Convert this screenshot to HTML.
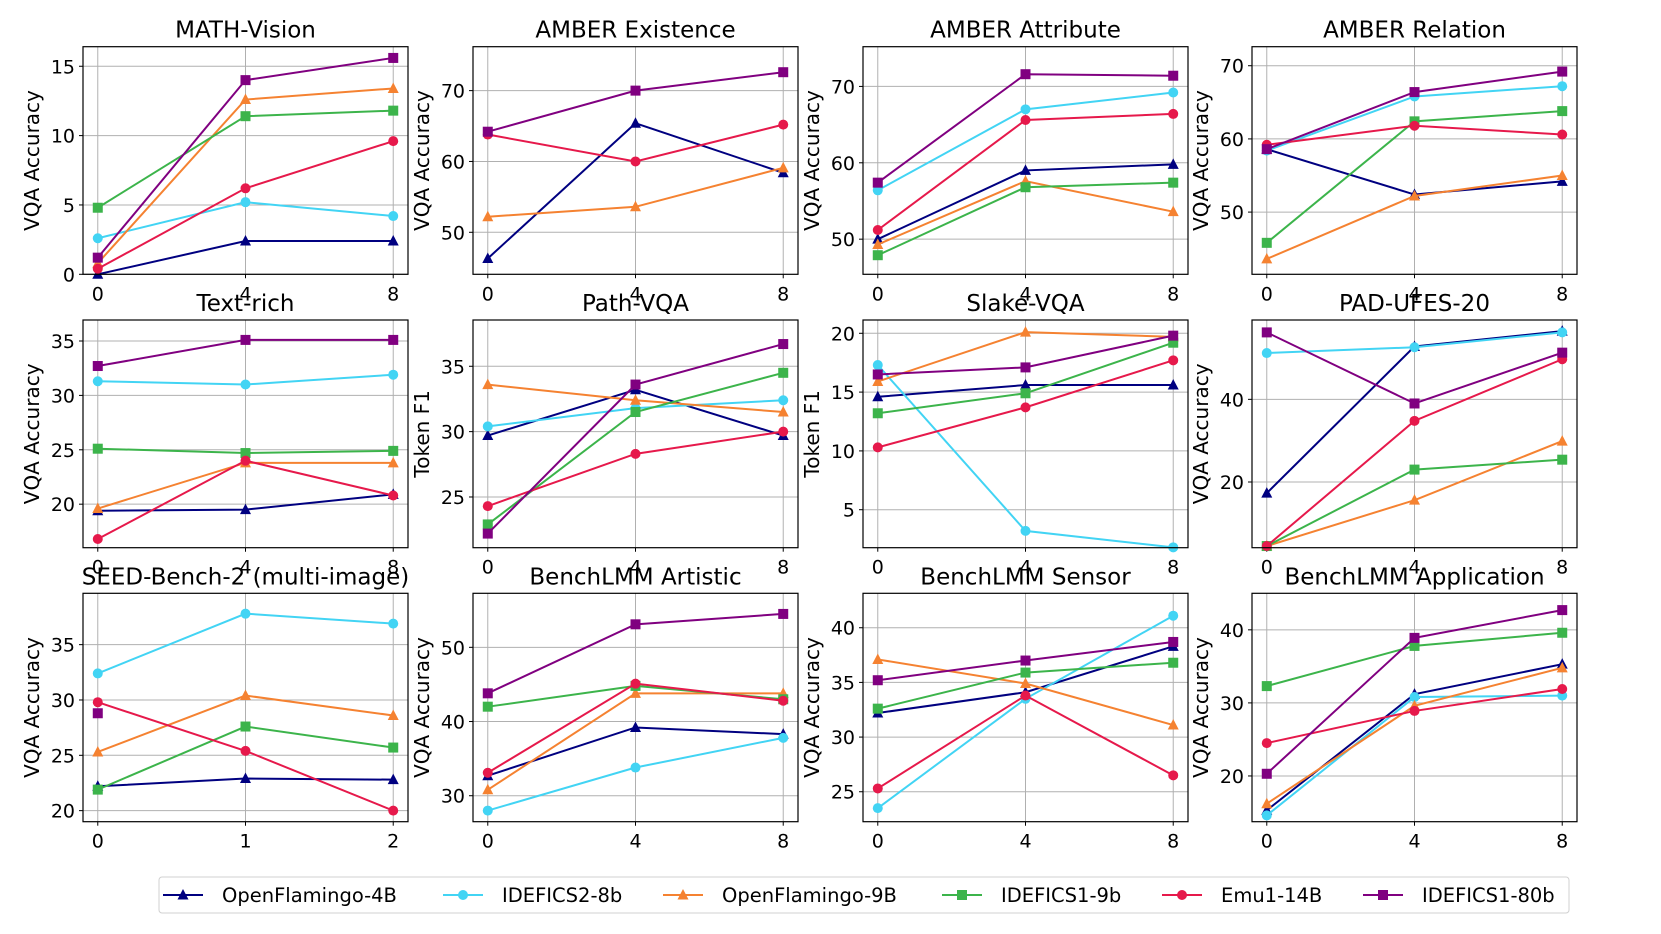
<!DOCTYPE html>
<html><head><meta charset="utf-8"><style>
body{margin:0;background:#fff;font-family:"DejaVu Sans","Liberation Sans",sans-serif;}
svg{display:block}
</style></head><body>
<svg id="chart" width="1661" height="934" viewBox="0 0 1661 934" xmlns="http://www.w3.org/2000/svg"></svg>
<script>
const series = ["OpenFlamingo-4B","IDEFICS2-8b","OpenFlamingo-9B","IDEFICS1-9b","Emu1-14B","IDEFICS1-80b"];
const colors = ["#000080","#42d4f4","#f58231","#3cb44b","#e6194b","#800080"];
const markers = ["tri","circ","tri","sq","circ","sq"];
const titles = ["MATH-Vision","AMBER Existence","AMBER Attribute","AMBER Relation","Text-rich","Path-VQA","Slake-VQA","PAD-UFES-20","SEED-Bench-2 (multi-image)","BenchLMM Artistic","BenchLMM Sensor","BenchLMM Application"];
const ylabels = ["VQA Accuracy","VQA Accuracy","VQA Accuracy","VQA Accuracy","VQA Accuracy","Token F1","Token F1","VQA Accuracy","VQA Accuracy","VQA Accuracy","VQA Accuracy","VQA Accuracy"];
const xcats = [[0,4,8],[0,4,8],[0,4,8],[0,4,8],[0,4,8],[0,4,8],[0,4,8],[0,4,8],[0,1,2],[0,4,8],[0,4,8],[0,4,8]];
const yticks = [[0,5,10,15],[50,60,70],[50,60,70],[50,60,70],[20,25,30,35],[25,30,35],[5,10,15,20],[20,40],[20,25,30,35],[30,40,50],[25,30,35,40],[20,30,40]];
const ylims = [[0,16.41],[44.07,76.2],[45.4,75.2],[41.5,72.6],[16.0,36.93],[21.12,38.54],[1.77,21.13],[4.1,59.2],[19.0,39.64],[26.5,57.28],[22.26,43.15],[13.74,45.0]];
const vOF4 = [[0,2.4,2.4],[46.3,65.4,58.4],[50,59,59.8],[58.6,52.4,54.2],[19.4,19.5,20.9],[29.7,33.2,29.7],[14.6,15.6,15.6],[17.3,52.8,56.5],[22.2,22.9,22.8],[32.7,39.2,38.3],[32.2,34.1,38.3],[15.3,31.2,35.3]];
const vID2 = [[2.6,5.2,4.2],null,[56.4,67,69.2],[58.4,65.8,67.2],[31.3,31,31.9],[30.4,31.8,32.4],[17.3,3.2,1.8],[51.2,52.6,56.2],[32.4,37.8,36.9],[28,33.8,37.8],[23.5,33.5,41.1],[14.6,30.8,31]];
const vOF9 = [[0.8,12.6,13.4],[52.2,53.6,59.1],[49.3,57.6,53.6],[43.6,52.2,55],[19.6,23.8,23.8],[33.6,32.4,31.5],[15.9,20.1,19.7],[4.5,15.6,29.9],[25.3,30.4,28.6],[30.8,43.8,43.8],[37.1,34.9,31.1],[16.2,29.6,34.8]];
const vID9 = [[4.8,11.4,11.8],null,[47.9,56.8,57.4],[45.8,62.4,63.8],[25.1,24.7,24.9],[22.9,31.5,34.5],[13.2,14.9,19.2],[4.5,23,25.4],[21.9,27.6,25.7],[42,44.8,43],[32.6,35.9,36.8],[32.3,37.8,39.6]];
const vEmu = [[0.4,6.2,9.6],[63.8,60,65.2],[51.2,65.6,66.4],[59.2,61.8,60.6],[16.8,24,20.8],[24.3,28.3,30],[10.3,13.7,17.7],[4.5,34.8,49.7],[29.8,25.4,20],[33.1,45.1,42.8],[25.3,33.8,26.5],[24.5,28.9,31.9]];
const vID80 = [[1.2,14,15.6],[64.2,70,72.6],[57.4,71.6,71.4],[58.6,66.4,69.2],[32.7,35.1,35.1],[22.2,33.6,36.7],[16.5,17.1,19.8],[56.2,39,51.3],[28.8,null,null],[43.8,53.1,54.5],[35.2,37,38.7],[20.3,38.9,42.7]];
const allVals = [vOF4,vID2,vOF9,vID9,vEmu,vID80];

const NS="http://www.w3.org/2000/svg";
const svg=document.getElementById('chart');
function mk(tag,attrs,parent){const e=document.createElementNS(NS,tag);for(const k in attrs)e.setAttribute(k,attrs[k]);(parent||svg).appendChild(e);return e;}
const colX=[83,473,863,1252], W=325;
const rowY=[[46.7,274.3],[320,547.7],[593.3,821.7]];

function marker(g,type,x,y,c){
  let m;
  if(type==="tri"){m=mk('polygon',{points:`${x},${y-6} ${x-5.5},${y+4.5} ${x+5.5},${y+4.5}`,fill:c},g);}
  else if(type==="circ"){m=mk('circle',{cx:x,cy:y,r:5,fill:c},g);}
  else {m=mk('rect',{x:x-5,y:y-5,width:10,height:10,fill:c},g);}
  return m;
}

for(let p=0;p<12;p++){
  const L=colX[p%4], R=L+W, T=rowY[Math.floor(p/4)][0], B=rowY[Math.floor(p/4)][1];
  const cats=xcats[p];
  const xmin=cats[0]-(cats[2]-cats[0])*0.05, xmax=cats[2]+(cats[2]-cats[0])*0.05;
  const [y0,y1]=ylims[p];
  const sx=v=>L+(v-xmin)/(xmax-xmin)*W;
  const sy=v=>B-(v-y0)/(y1-y0)*(B-T);
  const g=mk('g',{});
  
  
  const gr=mk('g',{stroke:'#b0b0b0','stroke-width':1},g);
  
  
  cats.forEach(c=>{mk('line',{x1:sx(c),x2:sx(c),y1:T,y2:B},gr);
    const t=mk('text',{x:sx(c),y:B+26,'text-anchor':'middle','font-size':19,fill:'#000'},g);t.textContent=c;
    
    
    mk('line',{x1:sx(c),x2:sx(c),y1:B,y2:B+4,stroke:'#000'},g);});
  yticks[p].forEach(v=>{mk('line',{x1:L,x2:R,y1:sy(v),y2:sy(v)},gr);
    const t=mk('text',{x:L-8,y:sy(v)+7,'text-anchor':'end','font-size':19,fill:'#000'},g);t.textContent=v;
    
    
    mk('line',{x1:L-4,x2:L,y1:sy(v),y2:sy(v),stroke:'#000'},g);});
  const cp='clip'+p;
  const cl=mk('clipPath',{id:cp},g);mk('rect',{x:L-8,y:T-8,width:W+16,height:B-T+16},cl);
  for(let s=0;s<6;s++){
    const vals=allVals[s][p]; if(!vals) continue;
    const sg=mk('g',{'clip-path':`url(#${cp})`},g);
    
    
    const pts=[];vals.forEach((v,i)=>{if(v!==null)pts.push(sx(cats[i])+','+sy(v));});
    if(pts.length>1){const pl=mk('polyline',{points:pts.join(' '),fill:'none',stroke:colors[s],'stroke-width':2},sg);
      
      }
    vals.forEach((v,i)=>{if(v===null)return;const m=marker(sg,markers[s],sx(cats[i]),sy(v),colors[s]);
      
      });
  }
  const fr=mk('rect',{x:L,y:T,width:W,height:B-T,fill:'none',stroke:'#000','stroke-width':1.2},g);
  
  
  const tt=mk('text',{x:(L+R)/2,y:T-9,'text-anchor':'middle','font-size':23,fill:'#000'},g);tt.textContent=titles[p];
  
  
  const yl=mk('text',{x:0,y:0,'text-anchor':'middle','font-size':20,fill:'#000',transform:`translate(${L-44},${(T+B)/2}) rotate(-90)`},g);yl.textContent=ylabels[p];
  
  
}
// legend
const lg=mk('g',{});


mk('rect',{x:159,y:877,width:1410,height:36,rx:3,fill:'#fff',stroke:'#d0d0d0'},lg);
const lx=[163,443,663,942,1162,1363];
for(let s=0;s<6;s++){
  const e=mk('g',{},lg);
  
  
  mk('line',{x1:lx[s],x2:lx[s]+40,y1:895,y2:895,stroke:colors[s],'stroke-width':2},e);
  marker(e,markers[s],lx[s]+20,895,colors[s]);
  const t=mk('text',{x:lx[s]+59,y:902,'font-size':19.5,fill:'#000'},e);t.textContent=series[s];
}
</script>
</body></html>
